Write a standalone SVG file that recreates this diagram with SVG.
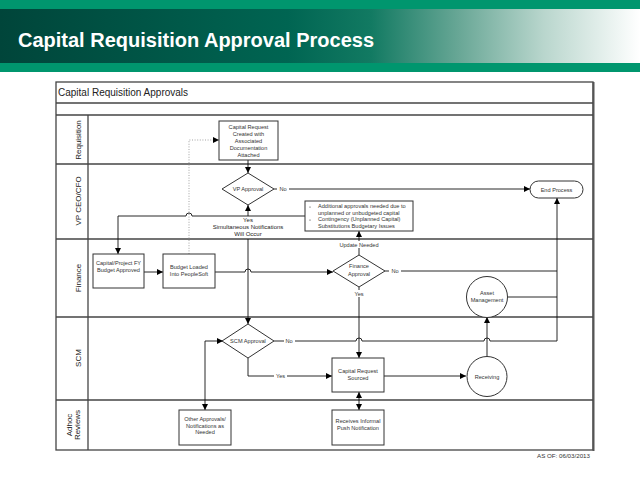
<svg xmlns="http://www.w3.org/2000/svg" width="640" height="480" viewBox="0 0 640 480">
<defs>
<linearGradient id="hdr" x1="0" y1="0" x2="1" y2="0">
<stop offset="0" stop-color="#00453a"/>
<stop offset="0.45" stop-color="#006552"/>
<stop offset="0.58" stop-color="#127a62"/>
<stop offset="0.72" stop-color="#6aa897"/>
<stop offset="0.85" stop-color="#b9d6cd"/>
<stop offset="1" stop-color="#ffffff"/>
</linearGradient>
<marker id="arr" markerUnits="userSpaceOnUse" markerWidth="7" markerHeight="6" refX="6" refY="3" orient="auto-start-reverse">
<path d="M0,0 L6,3 L0,6 z" fill="#000"/>
</marker>
<style>
.lane{fill:none;stroke:#444;stroke-width:1.3}
.box{fill:#fff;stroke:#333;stroke-width:1}
.c{fill:none;stroke:#111;stroke-width:0.9}
.t{font-family:"Liberation Sans",Arial,sans-serif;font-size:5.6px;fill:#333;text-anchor:middle}
.lab{font-family:"Liberation Sans",Arial,sans-serif;font-size:8px;fill:#222;text-anchor:middle}
.cl{font-family:"Liberation Sans",Arial,sans-serif;font-size:6px;fill:#222;text-anchor:middle}
</style>
</defs>
<rect x="0" y="0" width="640" height="480" fill="#fff"/>
<rect x="0" y="0" width="640" height="9" fill="#00966e"/>
<rect x="0" y="9" width="640" height="54" fill="url(#hdr)"/>
<rect x="0" y="63" width="640" height="9" fill="#00966e"/>
<text x="18" y="47" font-family="'Liberation Sans',Arial,sans-serif" font-size="20" font-weight="bold" fill="#fff">Capital Requisition Approval Process</text>

<g id="frame">
<rect x="56" y="82" width="537" height="368" class="lane"/>
<line x1="593.5" y1="82" x2="593.5" y2="451" stroke="#555" stroke-width="2"/>
<line x1="56" y1="103" x2="593" y2="103" class="lane"/>
<line x1="56" y1="115" x2="593" y2="115" class="lane"/>
<line x1="56" y1="164" x2="593" y2="164" class="lane"/>
<line x1="56" y1="239" x2="593" y2="239" class="lane"/>
<line x1="56" y1="317" x2="593" y2="317" class="lane"/>
<line x1="56" y1="400" x2="593" y2="400" class="lane"/>
<line x1="88" y1="115" x2="88" y2="450" class="lane"/>
<text x="58" y="96" font-family="'Liberation Sans',Arial,sans-serif" font-size="10" fill="#222">Capital Requisition Approvals</text>
<text class="lab" transform="translate(80.5,140) rotate(-90)">Requisition</text>
<text class="lab" transform="translate(80.5,201) rotate(-90)">VP CEO/CFO</text>
<text class="lab" transform="translate(80.5,278) rotate(-90)">Finance</text>
<text class="lab" transform="translate(80.5,358) rotate(-90)">SCM</text>
<text class="lab" transform="translate(71.5,425) rotate(-90)">Adhoc</text>
<text class="lab" transform="translate(80,425) rotate(-90)">Reviews</text>
<text x="590" y="458" font-family="'Liberation Sans',Arial,sans-serif" font-size="6.2" fill="#333" text-anchor="end">AS OF: 06/03/2013</text>
</g>

<g id="connectors">
<path class="c" d="M248,160 V173" marker-end="url(#arr)"/>
<path class="c" d="M274,189 H530" marker-end="url(#arr)"/>
<path d="M189,254 V140 H219" fill="none" stroke="#999" stroke-width="0.9" stroke-dasharray="1,1.6"/>
<path d="M213,137 L219,140 L213,143 z" fill="#000"/>
<path class="c" d="M305,216 H192 A3,3 0 0 0 186,216 H118 V254" marker-end="url(#arr)"/>
<path class="c" d="M248,216 V205" marker-end="url(#arr)"/>
<path class="c" d="M248,239 V324" marker-end="url(#arr)"/>
<path class="c" d="M144,272 H163" marker-end="url(#arr)"/>
<path class="c" d="M215,272 H245 A3,3 0 0 1 251,272 H333" marker-end="url(#arr)"/>
<path class="c" d="M359,255 V231" marker-end="url(#arr)"/>
<path class="c" d="M385,271 H557"/>
<path class="c" d="M557,341 V198" marker-end="url(#arr)"/>
<path class="c" d="M508,297 H557"/>
<path class="c" d="M274,341 H356 A3,3 0 0 1 362,341 H484 A3,3 0 0 1 490,341 H557"/>
<path class="c" d="M359,287 V358" marker-end="url(#arr)"/>
<path class="c" d="M248,358 V376 H332" marker-end="url(#arr)"/>
<path class="c" d="M384,376 H466" marker-end="url(#arr)"/>
<path class="c" d="M487,357 V317" marker-end="url(#arr)"/>
<path class="c" d="M205,410 V341 H223" marker-start="url(#arr)" marker-end="url(#arr)"/>
<path class="c" d="M359,392 V410" marker-start="url(#arr)" marker-end="url(#arr)"/>
<rect x="277" y="185" width="12" height="7" fill="#fff"/>
<text class="t" x="283" y="191">No</text>
<rect x="211" y="217" width="74" height="21" fill="#fff"/>
<text class="cl" x="248" y="222">Yes</text>
<text class="cl" x="248" y="229">Simultaneous Notifications</text>
<text class="cl" x="248" y="236">Will Occur</text>
<rect x="339" y="241" width="40" height="7" fill="#fff"/>
<text class="t" x="359" y="247">Update Needed</text>
<rect x="389" y="267" width="12" height="7" fill="#fff"/>
<text class="t" x="395" y="273">No</text>
<rect x="352" y="290" width="14" height="7" fill="#fff"/>
<text class="t" x="359" y="296">Yes</text>
<rect x="284" y="337" width="11" height="7" fill="#fff"/>
<text class="t" x="289" y="343">No</text>
<rect x="274" y="372" width="13" height="7" fill="#fff"/>
<text class="t" x="280.5" y="378">Yes</text>
</g>

<g id="n-request">
<rect class="box" x="219" y="121" width="59" height="39"/>
<text class="t" x="248.5" y="129">Capital Request</text>
<text class="t" x="248.5" y="136">Created with</text>
<text class="t" x="248.5" y="143">Associated</text>
<text class="t" x="248.5" y="150">Documentation</text>
<text class="t" x="248.5" y="157">Attached</text>
</g>
<g id="n-vp">
<path class="box" d="M248,173 L274,189 L248,205 L222,189 z"/>
<text class="t" x="248" y="191">VP Approval</text>
</g>
<g id="n-end">
<rect class="box" x="530" y="181" width="53" height="17" rx="8.5"/>
<text class="t" x="556.5" y="191.5">End Process</text>
</g>
<g id="n-notes">
<rect class="box" x="305" y="201" width="108" height="30"/>
<circle cx="310" cy="207" r="0.6" fill="#333"/>
<circle cx="310" cy="220" r="0.6" fill="#333"/>
<g font-family="'Liberation Sans',Arial,sans-serif" font-size="5.6" fill="#333">
<text x="318" y="208">Additional approvals needed due to</text>
<text x="318" y="214.5">unplanned or unbudgeted capital</text>
<text x="318" y="221">Contingency (Unplanned Capital)</text>
<text x="318" y="227.5">Substitutions Budgetary Issues</text>
</g>
</g>
<g id="n-budget-fy">
<rect class="box" x="93" y="254" width="51" height="34"/>
<text class="t" x="118.5" y="265">Capital/Project FY</text>
<text class="t" x="118.5" y="271.5">Budget Approved</text>
</g>
<g id="n-budget-loaded">
<rect class="box" x="163" y="254" width="52" height="34"/>
<text class="t" x="189" y="269">Budget Loaded</text>
<text class="t" x="189" y="275.5">Into PeopleSoft</text>
</g>
<g id="n-finance">
<path class="box" d="M359,255 L385,271 L359,287 L333,271 z"/>
<text class="t" x="359" y="268">Finance</text>
<text class="t" x="359" y="275.5">Approval</text>
</g>
<g id="n-asset">
<circle class="box" cx="487" cy="297" r="20.5"/>
<text class="t" x="487" y="295">Asset</text>
<text class="t" x="487" y="301.5">Management</text>
</g>
<g id="n-scm">
<path class="box" d="M248,324 L274,341 L248,358 L222,341 z"/>
<text class="t" x="248" y="343">SCM Approval</text>
</g>
<g id="n-sourced">
<rect class="box" x="332" y="358" width="52" height="34"/>
<text class="t" x="358" y="373">Capital Request</text>
<text class="t" x="358" y="379.5">Sourced</text>
</g>
<g id="n-receiving">
<circle class="box" cx="487" cy="376.5" r="20"/>
<text class="t" x="487" y="378.5">Receiving</text>
</g>
<g id="n-other">
<rect class="box" x="179" y="410" width="52" height="35"/>
<text class="t" x="205" y="421">Other Approvals/</text>
<text class="t" x="205" y="427.5">Notifications as</text>
<text class="t" x="205" y="434">Needed</text>
</g>
<g id="n-push">
<rect class="box" x="332" y="410" width="52" height="35"/>
<text class="t" x="358" y="423">Receives Informal</text>
<text class="t" x="358" y="429.5">Push Notification</text>
</g>
</svg>
